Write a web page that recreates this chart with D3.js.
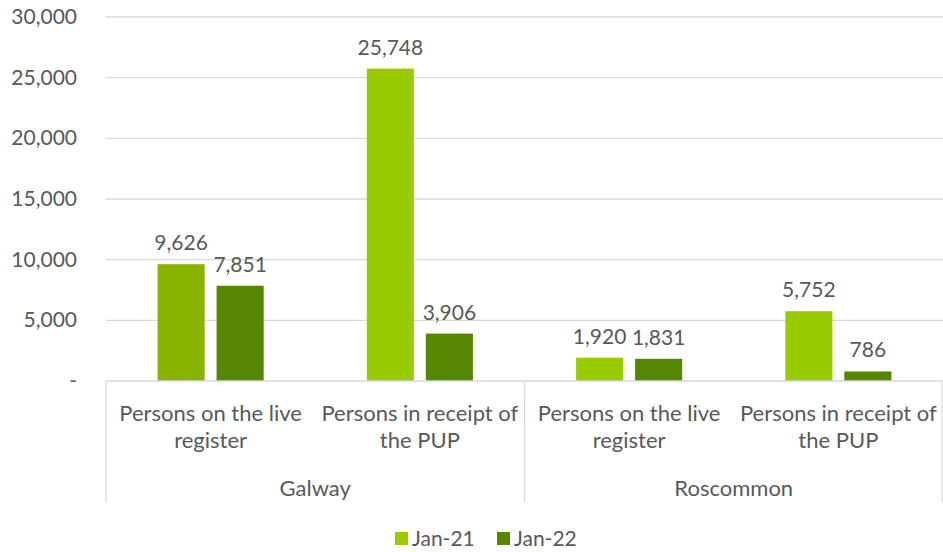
<!DOCTYPE html>
<html><head><meta charset="utf-8">
<script src="https://cdn.jsdelivr.net/npm/d3@7"></script>
<style>body{margin:0;background:#fff}text{font-family:Lato,"Open Sans",sans-serif;fill:#595959}</style>
</head><body>
<svg id="c" width="943" height="552"></svg>
<script>
const groups = ["Galway", "Roscommon"];
const categories = ["Persons on the live register", "Persons in receipt of the PUP"];
const series = ["Jan-21", "Jan-22"];
const jan21 = [9626, 25748, 1920, 5752];
const jan22 = [7851, 3906, 1831, 786];
const yTicks = [0, 5000, 10000, 15000, 20000, 25000, 30000];
const colors = ["#99CC00", "#568700"];
const firstBarColor = "#88B400";

(function () {
const svg = d3.select("#c");
const FS = 21, FC = 22;
const pL = 106, pR = 943, pT = 17, pB = 381;
const catKeys = [];
groups.forEach(g => categories.forEach(c => catKeys.push(g + "|" + c)));
const x = d3.scaleBand().domain(catKeys).range([pL, pR]);
const y = d3.scaleLinear().domain([0, 30000]).range([pB, pT]);
const fmt = d3.format(",");

svg.append("g").selectAll("line").data(yTicks.filter(d => d > 0)).join("line")
  .attr("x1", pL).attr("x2", pR).attr("y1", d => y(d)).attr("y2", d => y(d))
  .attr("stroke", "#D9D9D9").attr("stroke-width", 1.3);

svg.append("g").selectAll("text").data(yTicks).join("text")
  .attr("x", 77).attr("y", d => y(d) + 7).attr("text-anchor", "end")
  .attr("font-size", FS).text(d => d === 0 ? "-" : fmt(d));

const bw = x.bandwidth() * 0.225, gap = x.bandwidth() * 0.057;
const data = [];
catKeys.forEach((k, i) => {
  [jan21[i], jan22[i]].forEach((v, s) => data.push({k, v, s, i}));
});
const cx = d => x(d.k) + x.bandwidth() / 2 + (d.s === 0 ? -gap / 2 - bw : gap / 2);
svg.append("g").selectAll("rect").data(data).join("rect")
  .attr("x", cx).attr("width", bw)
  .attr("y", d => y(d.v)).attr("height", d => y(0) - y(d.v))
  .attr("fill", d => (d.i === 0 && d.s === 0) ? firstBarColor : colors[d.s]);
svg.append("g").selectAll("text").data(data).join("text")
  .attr("x", d => cx(d) + bw / 2).attr("y", d => y(d.v) - 14)
  .attr("text-anchor", "middle").attr("font-size", FS).text(d => fmt(d.v));

svg.append("line").attr("x1", pL).attr("x2", pR).attr("y1", pB).attr("y2", pB)
  .attr("stroke", "#D9D9D9").attr("stroke-width", 1.3);
const seps = [pL, x(catKeys[2]), pR - 1];
svg.append("g").selectAll("line").data(seps).join("line")
  .attr("x1", d => d).attr("x2", d => d).attr("y1", pB).attr("y2", 502)
  .attr("stroke", "#D9D9D9").attr("stroke-width", 1.3);

catKeys.forEach(k => {
  const c = k.split("|")[1];
  const words = c.split(" ");
  const l1 = words.slice(0, 4).join(" "), l2 = words.slice(4).join(" ");
  const cxm = x(k) + x.bandwidth() / 2;
  const t = svg.append("text").attr("text-anchor", "middle").attr("font-size", FC);
  t.append("tspan").attr("x", cxm).attr("y", 421).text(l1);
  t.append("tspan").attr("x", cxm).attr("y", 448).text(l2);
});
groups.forEach((g, gi) => {
  const x0 = x(catKeys[gi * 2]), x1 = x(catKeys[gi * 2 + 1]) + x.bandwidth();
  svg.append("text").attr("x", (x0 + x1) / 2).attr("y", 496).attr("text-anchor", "middle")
    .attr("font-size", FC).text(g);
});

const lx = [395, 497];
series.forEach((s, i) => {
  svg.append("rect").attr("x", lx[i]).attr("y", 532).attr("width", 13).attr("height", 13).attr("fill", colors[i]);
  svg.append("text").attr("x", lx[i] + 17).attr("y", 546).attr("font-size", FS).text(s);
});
})();
</script>
</body></html>
